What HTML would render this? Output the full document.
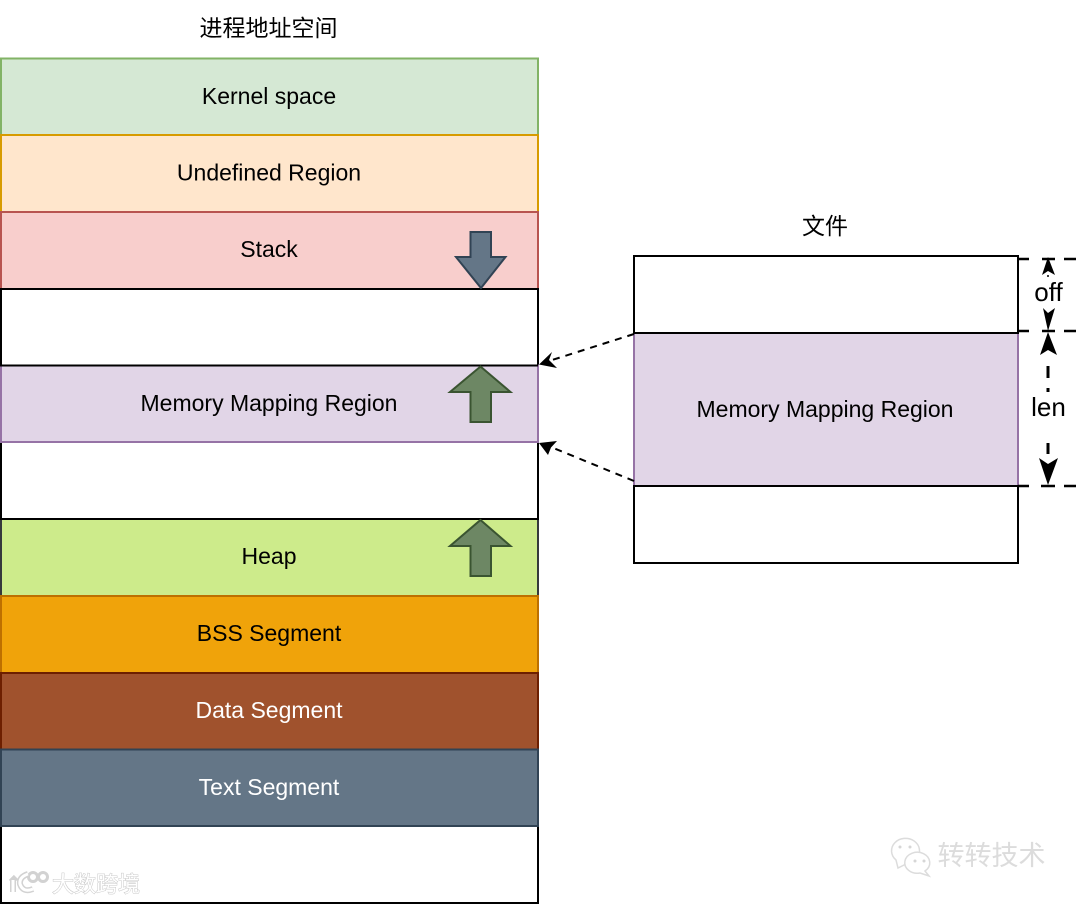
<!DOCTYPE html>
<html><head><meta charset="utf-8"><style>
html,body{margin:0;padding:0;background:#fff}
svg{display:block}
text{font-family:"Liberation Sans","Noto Sans CJK SC",sans-serif;font-size:23px;text-anchor:middle;fill:#000}
</style></head><body>
<svg width="1080" height="904" viewBox="0 0 1080 904" xmlns="http://www.w3.org/2000/svg">
<g stroke-width="2">
<rect x="1" y="58.500" width="537" height="76.500" fill="#d5e8d4" stroke="#82b366"/>
<rect x="1" y="135" width="537" height="77" fill="#ffe6cc" stroke="#d79b00"/>
<rect x="1" y="212" width="537" height="77" fill="#f8cecc" stroke="#b85450"/>
<rect x="1" y="289" width="537" height="76.500" fill="#fff" stroke="#000"/>
<rect x="1" y="442" width="537" height="77" fill="#fff" stroke="#000"/>
<rect x="1" y="365.500" width="537" height="76.500" fill="#e1d5e7" stroke="#9673a6"/>
<path d="M0 365.500H538" stroke="#000" fill="none"/>
<rect x="1" y="519" width="537" height="77" fill="#cdeb8b" stroke="#36393d"/>
<path d="M0 519H539" stroke="#000" fill="none"/>
<rect x="1" y="826" width="537" height="77" fill="#fff" stroke="#000"/>
<rect x="1" y="596" width="537" height="77" fill="#f0a30a" stroke="#bd7000"/>
<rect x="1" y="673" width="537" height="76.500" fill="#a0522d" stroke="#6d1f00"/>
<rect x="1" y="749.500" width="537" height="76.500" fill="#647687" stroke="#314354"/>
<rect x="634" y="256" width="384" height="77" fill="#fff" stroke="#000"/>
<rect x="634" y="486" width="384" height="77" fill="#fff" stroke="#000"/>
<rect x="634" y="333" width="384" height="153" fill="#e1d5e7" stroke="#9673a6"/>
<path d="M633 333H1019M633 486H1019" stroke="#000" fill="none"/>
</g>
<path d="M470.500 232H491V257H505.500L481 288L456 257H470.500Z" fill="#647687" stroke="#314354" stroke-width="2"/>
<path d="M480.500 366.500L510.500 392H491V422H470.500V392H450Z" fill="#6d8764" stroke="#3a5431" stroke-width="2"/>
<path d="M480.500 520L510.500 546H491V576H470.500V546H450Z" fill="#6d8764" stroke="#3a5431" stroke-width="2"/>
<g stroke="#000" stroke-width="2" fill="none" stroke-dasharray="7 6">
<line x1="634" y1="334" x2="549" y2="361"/>
<line x1="634" y1="481" x2="551" y2="447"/>
</g>
<path d="M539 364.500L552 352L549 360L557 368Z" fill="#000"/>
<path d="M539 443L557 441L551 447.500L548 455Z" fill="#000"/>
<g stroke="#000" fill="none" stroke-width="2.500">
<path d="M1018 259H1029M1042 259H1055M1064 259H1076"/>
<path d="M1018 331H1029M1042 331H1055M1064 331H1076"/>
<path d="M1018 486H1029M1041 486H1055M1064 486H1076"/>
<path d="M1048 366V378M1048 388V392M1048 443V454" stroke-width="3"/>
</g>
<path d="M1048 257L1055 275L1048 271L1042 275Z" fill="#000"/>
<path d="M1048 331L1043 308L1048 313L1055 308Z" fill="#000"/>
<path d="M1048 332L1057 355L1048 350L1040 355Z" fill="#000"/>
<path d="M1048 485L1039 458L1048 464L1058 458Z" fill="#000"/>
<circle cx="1048" cy="276" r="1" fill="#000"/>
<text x="269" y="104">Kernel space</text>
<text x="269" y="180.500">Undefined Region</text>
<text x="269" y="257">Stack</text>
<text x="269" y="411">Memory Mapping Region</text>
<text x="269" y="564">Heap</text>
<text x="269" y="641">BSS Segment</text>
<text x="269" y="718" style="fill:#fff">Data Segment</text>
<text x="269" y="795" style="fill:#fff">Text Segment</text>
<text x="825" y="417">Memory Mapping Region</text>
<text x="268.500" y="36">进程地址空间</text>
<text x="825" y="234">文件</text>
<text x="1048.500" y="301" style="font-size:26px">off</text>
<text x="1048.500" y="416" style="font-size:26px">len</text>
<g fill="none" stroke="#d2d2d2" stroke-width="6">
<path d="M13 880V892M11 882L16 877M28 874Q19 877 20 884Q23 893 33 889"/>
<circle cx="33" cy="877" r="4.500" stroke-width="3"/><circle cx="43" cy="877" r="4.500" stroke-width="3"/>
</g>
<g fill="none" stroke="#fff" stroke-width="3">
<path d="M13 880V892M28 874Q19 877 20 884Q23 893 33 889"/>
</g>
<g fill="#fff" stroke="#dcdcdc" stroke-width="1.500">
<path d="M898 868L896 860A14 12.500 0 1 1 917 858L906 864Z"/>
<path d="M925 871L929 876L920 873A12.500 10.500 0 1 1 925 871Z"/>
</g>
<g fill="#d6d6d6">
<circle cx="900" cy="847" r="1.500"/><circle cx="910" cy="847" r="1.500"/><circle cx="915" cy="861" r="1.500"/><circle cx="924" cy="861" r="1.500"/>
</g>
<text x="96" y="892" style="font-size:22px;fill:#fff;stroke:#c8c8c8;stroke-width:1;paint-order:stroke">大数跨境</text>
<text x="991.500" y="865" style="font-size:27px;fill:#dcdcdc">转转技术</text>
</svg>
</body></html>
